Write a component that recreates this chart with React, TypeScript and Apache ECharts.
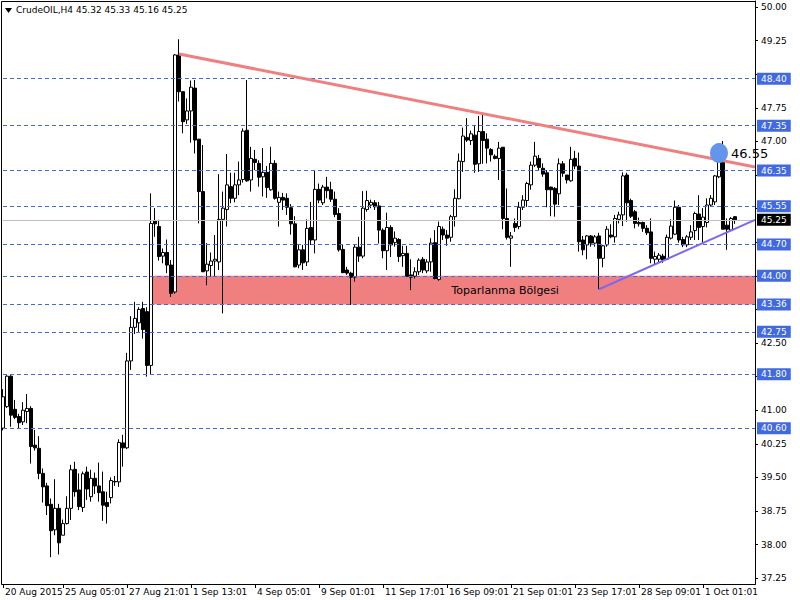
import React, { useEffect, useRef } from 'react';
import * as echarts from 'echarts';

// ---- data (H4 bars) ----
const opens = [
  40.60, 41.08, 41.76, 41.02, 40.86, 40.74, 40.97, 41.04, 40.22, 40.15,
  39.59, 39.31, 38.90, 38.33, 38.81, 38.21, 38.47, 38.81, 39.68, 39.22,
  38.83, 39.62, 39.07, 39.48, 39.31, 39.18, 38.94, 39.05, 39.41, 39.40,
  40.27, 40.16, 42.10, 42.85, 42.95, 43.27, 43.20, 42.00, 45.22, 45.10,
  44.44, 44.52, 44.24, 43.64, 48.93, 48.11, 47.48, 47.68, 48.19, 47.05,
  45.88, 44.11, 44.23, 44.33, 44.31, 45.26, 45.48, 45.99, 45.73, 46.03,
  46.15, 47.25, 46.14, 46.60, 46.51, 46.21, 46.31, 45.92, 46.51, 45.64,
  45.75, 45.73, 45.52, 45.16, 44.24, 44.58, 44.31, 45.08, 44.80, 45.93,
  45.63, 45.98, 45.92, 45.71, 45.39, 44.59, 44.13, 44.06, 43.97, 44.64,
  44.44, 45.48, 45.58, 45.63, 45.56, 45.02, 44.56, 45.08, 44.74, 44.81,
  44.45, 44.50, 44.02, 43.99, 44.09, 44.37, 44.11, 44.31, 44.74, 43.92,
  45.04, 44.91, 44.86, 45.32, 45.72, 46.55, 47.09, 47.02, 47.14, 46.50,
  47.22, 47.05, 46.82, 46.67, 46.62, 46.87, 45.28, 44.84, 45.17, 45.10,
  45.53, 45.68, 46.03, 46.47, 46.62, 46.40, 46.30, 45.98, 45.95, 45.83,
  46.50, 46.25, 46.12, 46.62, 46.45, 44.80, 44.69, 44.89, 44.73, 44.89,
  44.39, 44.69, 44.91, 44.87, 45.26, 45.36, 46.25, 45.68, 45.43, 45.19,
  45.19, 45.06, 44.98, 44.37, 44.37, 44.44, 44.37, 44.84, 44.93, 45.53,
  44.81, 44.69, 44.86, 45.01, 45.38, 45.10, 45.19, 45.58, 45.65, 46.21,
  46.55, 45.13, 45.02, 45.32,
];
const highs = [
  41.47, 41.78, 41.78, 41.23, 40.92, 41.18, 41.36, 41.09, 40.56, 40.42,
  39.70, 39.38, 39.03, 39.46, 38.91, 38.56, 39.08, 39.78, 39.85, 39.59,
  39.63, 39.74, 39.67, 39.61, 39.83, 39.63, 39.18, 39.50, 39.53, 40.35,
  40.45, 42.28, 43.10, 43.42, 43.30, 43.42, 43.30, 45.84, 45.51, 45.25,
  44.61, 44.81, 44.35, 48.95, 49.28, 48.11, 47.96, 48.36, 48.37, 47.05,
  46.92, 44.73, 44.52, 44.91, 46.27, 45.88, 46.72, 46.30, 46.30, 46.55,
  47.29, 48.37, 46.88, 46.81, 46.58, 46.85, 46.45, 46.88, 46.58, 45.88,
  45.85, 45.84, 45.60, 45.33, 44.69, 44.69, 45.26, 45.65, 46.35, 46.06,
  46.03, 46.21, 46.10, 45.88, 45.51, 44.69, 44.20, 44.09, 44.69, 44.87,
  45.89, 45.90, 45.70, 45.69, 45.65, 45.06, 45.41, 45.13, 44.99, 44.84,
  44.67, 44.67, 44.37, 44.19, 44.39, 44.42, 44.37, 44.84, 45.02, 45.21,
  45.10, 45.02, 45.36, 45.93, 46.73, 47.31, 47.52, 47.24, 47.37, 47.57,
  47.59, 47.18, 46.85, 46.71, 46.99, 46.87, 45.95, 44.98, 45.28, 45.65,
  45.80, 46.10, 46.55, 46.99, 46.70, 46.51, 46.36, 45.99, 45.98, 46.62,
  46.56, 46.25, 46.88, 46.79, 46.75, 44.89, 44.91, 44.91, 44.91, 44.96,
  44.69, 45.11, 45.15, 45.36, 45.43, 46.31, 46.30, 45.72, 45.47, 45.30,
  45.21, 45.13, 45.28, 44.54, 44.51, 44.49, 44.92, 45.26, 45.68, 45.58,
  44.87, 44.91, 45.13, 45.43, 45.80, 45.51, 45.73, 45.80, 46.25, 46.60,
  47.01, 45.28, 45.31, 45.33,
];
const lows = [
  40.55, 41.05, 40.63, 40.80, 40.60, 40.67, 40.71, 39.81, 40.10, 39.46,
  38.94, 38.66, 37.72, 38.21, 37.78, 38.21, 38.45, 38.55, 39.07, 38.77,
  38.73, 39.00, 38.96, 39.13, 38.96, 38.53, 38.47, 38.92, 39.31, 39.29,
  39.74, 40.13, 41.90, 42.70, 42.75, 42.60, 41.75, 41.80, 44.87, 44.34,
  44.28, 44.06, 43.53, 43.60, 47.89, 47.18, 47.39, 46.97, 46.73, 45.17,
  44.09, 43.79, 43.98, 43.98, 44.13, 43.16, 45.10, 45.62, 45.64, 45.80,
  46.08, 46.10, 45.88, 46.36, 45.99, 45.77, 45.74, 45.90, 45.70, 45.10,
  45.47, 45.36, 44.92, 44.19, 44.17, 44.13, 44.22, 44.69, 44.50, 45.62,
  45.58, 45.73, 45.65, 45.31, 44.54, 44.06, 44.02, 43.35, 43.87, 44.31,
  44.39, 45.43, 45.51, 45.47, 44.72, 44.39, 44.13, 44.42, 44.65, 44.31,
  44.20, 43.98, 43.68, 43.94, 44.02, 44.06, 44.06, 44.09, 43.92, 43.89,
  44.80, 44.67, 44.76, 45.10, 45.71, 46.32, 46.99, 46.92, 46.30, 46.32,
  46.50, 46.51, 46.55, 46.60, 46.14, 45.04, 44.81, 44.20, 44.98, 45.04,
  45.47, 45.54, 45.92, 46.43, 46.36, 46.21, 45.53, 45.33, 45.32, 45.58,
  46.21, 46.06, 46.10, 46.38, 44.54, 44.46, 44.37, 44.65, 44.65, 43.70,
  44.19, 44.65, 44.84, 44.74, 45.17, 45.11, 45.21, 45.29, 45.06, 45.10,
  44.98, 44.91, 44.28, 44.26, 44.30, 44.29, 44.35, 44.81, 44.91, 44.74,
  44.64, 44.64, 44.80, 44.80, 44.80, 44.72, 45.08, 45.54, 45.58, 46.18,
  45.04, 44.58, 45.00, 45.16,
];
const closes = [
  41.30, 41.76, 40.89, 40.84, 40.72, 41.00, 41.04, 40.19, 40.16, 39.59,
  39.29, 38.87, 38.31, 38.81, 38.04, 38.47, 38.81, 39.67, 39.18, 38.85,
  39.58, 39.24, 39.48, 39.31, 39.16, 38.88, 38.85, 39.43, 39.40, 40.28,
  40.16, 42.10, 42.85, 43.05, 43.25, 42.80, 42.00, 45.17, 45.16, 44.43,
  44.52, 44.24, 43.61, 48.93, 48.11, 47.44, 47.68, 48.21, 47.03, 45.88,
  44.09, 44.26, 44.33, 44.37, 45.26, 45.51, 46.03, 45.73, 46.03, 46.14,
  47.23, 46.12, 46.62, 46.53, 46.20, 46.31, 45.97, 46.51, 45.73, 45.75,
  45.69, 45.53, 45.16, 44.20, 44.58, 44.29, 45.06, 44.80, 45.93, 45.69,
  45.98, 45.90, 45.71, 45.37, 44.58, 44.07, 44.06, 43.97, 44.64, 44.44,
  45.51, 45.68, 45.64, 45.54, 45.02, 44.56, 45.08, 44.69, 44.84, 44.43,
  44.50, 43.99, 43.97, 44.09, 44.35, 44.13, 44.31, 44.73, 43.94, 45.10,
  44.91, 44.84, 45.32, 45.73, 46.56, 47.12, 47.03, 47.17, 46.49, 47.22,
  47.02, 46.85, 46.70, 46.62, 46.85, 45.28, 44.86, 44.89, 45.08, 45.53,
  45.69, 46.06, 46.47, 46.67, 46.42, 46.27, 45.92, 45.92, 45.60, 46.50,
  46.29, 46.14, 46.60, 46.45, 44.76, 44.58, 44.89, 44.73, 44.87, 44.39,
  44.67, 45.04, 44.87, 45.28, 45.36, 46.23, 45.63, 45.33, 45.17, 45.16,
  45.06, 44.96, 44.39, 44.43, 44.46, 44.35, 44.86, 45.11, 45.53, 44.80,
  44.69, 44.87, 44.98, 45.39, 45.08, 45.31, 45.58, 45.73, 46.23, 46.55,
  45.04, 45.04, 45.28, 45.25,
];

const slotCount = 189; // bars plus empty right-hand shift
const levels = [48.40, 47.35, 46.35, 45.55, 44.70, 44.00, 43.36, 42.75, 41.80, 40.60];
const currentPrice = 45.25;
const yTicks = [37.25, 38.00, 38.75, 39.50, 40.25, 41.00, 41.75, 42.50, 43.25, 44.00, 44.75, 45.50, 46.25, 47.00, 47.75, 48.50, 49.25, 50.00];
// scale labels that stay visible (the others sit under the level tags)
const yLabels = [37.25, 38.00, 38.75, 39.50, 40.25, 41.00, 42.50, 47.00, 47.75, 49.25, 50.00];
const timeLabels = ['20 Aug 2015', '25 Aug 05:01', '27 Aug 21:01', '1 Sep 13:01', '4 Sep 05:01', '9 Sep 01:01', '11 Sep 17:01', '16 Sep 09:01', '21 Sep 01:01', '23 Sep 17:01', '28 Sep 09:01', '1 Oct 01:01'];
const timeLabelBars = [0, 15, 31, 47, 63, 79, 95, 111, 127, 143, 159, 175];
const zone = { startBar: 37, top: 44.00, bottom: 43.36, text: 'Toparlanma Bölgesi', textBar: 112 };
const resistanceLine = [[44, 48.95], [188, 46.43]];
const supportLine = [[149, 43.70], [188, 45.25]];
const marker = { bar: 179, price: 46.74, text: '46.55' };
const headerText = 'CrudeOIL,H4 45.32 45.33 45.16 45.25';

const FONT = 'DejaVu Sans';

export default function App() {
  const ref = useRef<HTMLDivElement>(null);
  useEffect(() => {
    if (!ref.current) return;
    const chart = echarts.init(ref.current, undefined, { renderer: 'svg' });
    const categories = Array.from({ length: slotCount }, (_, i) => String(i));
    const candles = opens.map((o, i) => [o, closes[i], lows[i], highs[i]]);
    const showTick = (idx: number) => timeLabelBars.indexOf(idx) >= 0;

    const levelLabel = (bg: string) => ({
      show: true,
      position: 'end',
      distance: 2,
      formatter: (p: any) => Number(p.value).toFixed(2),
      backgroundColor: bg,
      color: '#fff',
      fontFamily: FONT,
      fontSize: 9,
      padding: [2, 4, 1, 4],
    });

    chart.setOption({
      animation: false,
      backgroundColor: '#fff',
      grid: { left: 3, right: 45, top: 1, bottom: 16, containLabel: false },
      xAxis: {
        type: 'category',
        data: categories,
        boundaryGap: false,
        axisLine: { show: true, lineStyle: { color: '#000', width: 1 } },
        axisTick: { show: true, interval: (i: number) => showTick(i), length: 4, lineStyle: { color: '#000' } },
        axisLabel: {
          interval: (i: number) => showTick(i),
          formatter: (_v: string, i: number) => {
            const k = timeLabelBars.indexOf(i);
            return k >= 0 ? timeLabels[k] : '';
          },
          align: 'left',
          padding: [0, 0, 0, 2],
          margin: 3,
          color: '#000',
          fontFamily: FONT,
          fontSize: 9,
        },
        splitLine: { show: false },
      },
      yAxis: {
        type: 'value',
        position: 'right',
        min: 37.121,
        max: 50.134,
        axisLine: { show: true, lineStyle: { color: '#000', width: 1 } },
        axisTick: { show: true, customValues: yTicks, length: 3, lineStyle: { color: '#000' } },
        axisLabel: {
          customValues: yLabels,
          formatter: (v: number) => v.toFixed(2),
          margin: 6,
          color: '#000',
          fontFamily: FONT,
          fontSize: 9,
        },
        splitLine: { show: false },
      },
      series: [
        {
          type: 'line',
          name: 'levels',
          data: [],
          z: 1,
          silent: true,
          markArea: {
            silent: true,
            itemStyle: { color: '#F08080', opacity: 1 },
            data: [[{ xAxis: String(zone.startBar), yAxis: zone.top }, { xAxis: String(slotCount - 1), yAxis: zone.bottom }]],
          },
          markLine: {
            silent: true,
            symbol: ['none', 'none'],
            precision: 2,
            data: [
              ...levels.map((v) => ({
                yAxis: v,
                lineStyle: { color: '#4169E1', type: [4, 3], width: 1 },
                label: levelLabel('#4169E1'),
              })),
              {
                yAxis: currentPrice,
                lineStyle: { color: '#C0C0C0', type: 'solid', width: 1 },
                label: levelLabel('#000'),
              },
            ],
          },
          markPoint: {
            silent: true,
            data: [
              {
                coord: [String(zone.textBar), (zone.top + zone.bottom) / 2],
                symbol: 'rect',
                symbolSize: 1,
                itemStyle: { color: 'rgba(0,0,0,0)' },
                label: { show: true, position: 'right', distance: 0, formatter: zone.text, color: '#000', fontFamily: FONT, fontSize: 11 },
              },
            ],
          },
        },
        {
          type: 'candlestick',
          name: 'CrudeOIL',
          data: candles,
          barWidth: 3,
          clip: false,
          z: 3,
          itemStyle: { color: '#fff', color0: '#000', borderColor: '#000', borderColor0: '#000', borderWidth: 1 },
        },
        {
          type: 'line',
          name: 'trend',
          data: [],
          z: 4,
          silent: true,
          markLine: {
            silent: true,
            symbol: ['none', 'none'],
            label: { show: false },
            data: [
              [
                { coord: [String(resistanceLine[0][0]), resistanceLine[0][1]], lineStyle: { color: '#F08080', width: 3, type: 'solid' } },
                { coord: [String(resistanceLine[1][0]), resistanceLine[1][1]] },
              ],
              [
                { coord: [String(supportLine[0][0]), supportLine[0][1]], lineStyle: { color: '#7B68EE', width: 2, type: 'solid' } },
                { coord: [String(supportLine[1][0]), supportLine[1][1]] },
              ],
            ],
          },
          markPoint: {
            silent: true,
            data: [
              {
                coord: [String(marker.bar), marker.price],
                symbol: 'circle',
                symbolSize: [18, 20],
                itemStyle: { color: '#6495ED' },
                label: { show: true, position: 'right', distance: 3, formatter: marker.text, color: '#000', fontFamily: FONT, fontSize: 13 },
              },
            ],
          },
        },
      ],
      graphic: [
        { type: 'rect', shape: { x: 1.5, y: 1.5, width: 754, height: 583 }, style: { fill: 'none', stroke: '#000', lineWidth: 1 }, silent: true, z: 10 },
        { type: 'polygon', shape: { points: [[5, 8], [12, 8], [8.5, 13]] }, style: { fill: '#000' }, silent: true, z: 10 },
        { type: 'text', x: 16, y: 5, style: { text: headerText, fill: '#000', font: `9px "${FONT}"` }, silent: true, z: 10 },
      ],
    });
    return () => chart.dispose();
  }, []);
  return <div ref={ref} style={{ position: 'absolute', left: 0, top: 0, width: 800, height: 600, background: '#fff' }} />;
}
